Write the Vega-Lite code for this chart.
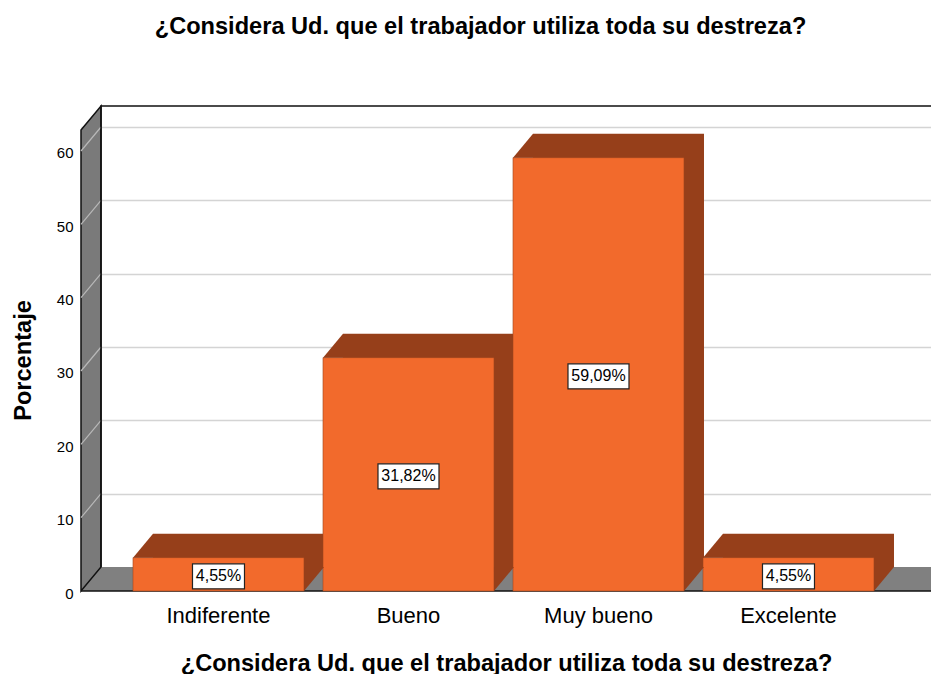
{
  "$schema": "https://vega.github.io/schema/vega-lite/v6.json",
  "width": 850,
  "height": 485,
  "autosize": {"type": "none"},
  "padding": {"left": 81, "top": 106, "right": 0, "bottom": 83},
  "background": "white",
  "config": {"font": "Liberation Sans", "view": {"stroke": null}},
  "title": {
    "text": "¿Considera Ud. que el trabajador utiliza toda su destreza?",
    "frame": "group", "anchor": "middle", "dx": -25.5, "offset": 64,
    "fontSize": 23.6, "fontWeight": "bold", "color": "black", "font": "Liberation Sans"
  },
  "datasets": {
    "datos": [
      {"categoria": "Indiferente", "porcentaje": 4.55, "etiqueta": "4,55%"},
      {"categoria": "Bueno", "porcentaje": 31.82, "etiqueta": "31,82%"},
      {"categoria": "Muy bueno", "porcentaje": 59.09, "etiqueta": "59,09%"},
      {"categoria": "Excelente", "porcentaje": 4.55, "etiqueta": "4,55%"}
    ],
    "decor": [{}]
  },
  "layer": [
    {
      "data": {"name": "decor"},
      "mark": {"type": "point", "shape": "M-425,242.5L-405,218.5L454,218.5L434,242.5Z", "size": 4, "filled": true, "fill": "#808080", "strokeWidth": 0, "opacity": 1},
      "encoding": {}
    },
    {
      "data": {"name": "decor"},
      "mark": {"type": "point", "shape": "M-425,-218.5L-405,-242.5L-405,218.5L-425,242.5Z", "size": 4, "filled": true, "fill": "#7A7A7A", "stroke": "#111111", "strokeWidth": 1.5, "opacity": 1},
      "encoding": {}
    },
    {
      "data": {"name": "decor"},
      "mark": {"type": "point", "shape": "M-405,145.2L-425,169.2M-405,71.8L-425,95.8M-405,-1.5L-425,22.5M-405,-74.8L-425,-50.8M-405,-148.2L-425,-124.2M-405,-221.5L-425,-197.5", "size": 4, "filled": false, "stroke": "#B8B8B8", "strokeWidth": 1.2, "opacity": 1},
      "encoding": {}
    },
    {
      "data": {"name": "decor"},
      "mark": {"type": "point", "shape": "M-405,218.5L-405,-242.5L454,-242.5", "size": 4, "filled": false, "stroke": "#111111", "strokeWidth": 1.5, "opacity": 1},
      "encoding": {}
    },
    {
      "data": {"name": "decor"},
      "mark": {"type": "point", "shape": "M-425,242.5L440,242.5", "size": 4, "filled": false, "stroke": "#111111", "strokeWidth": 1.5, "opacity": 1},
      "encoding": {}
    },
    {
      "data": {"name": "datos"},
      "mark": {"type": "bar", "fill": "#963F1A", "xOffset": 20},
      "encoding": {
        "x": {"field": "categoria", "type": "nominal", "sort": null,
              "scale": {"paddingInner": 0.1, "paddingOuter": 0.28684, "align": 0.477}},
        "y": {"field": "porcentaje", "type": "quantitative",
              "scale": {"domain": [-3.2727, 62.864], "nice": false, "zero": false},
              "axis": {"orient": "right", "grid": true, "gridColor": "#D4D4D4", "gridWidth": 1.5,
                       "labels": false, "ticks": false, "domain": false, "title": null,
                       "values": [10, 20, 30, 40, 50, 60]}},
        "y2": {"datum": 0}
      }
    },
    {
      "data": {"name": "datos"},
      "mark": {"type": "bar", "fill": "#F26A2C", "stroke": "#A0461E", "strokeWidth": 0.6},
      "encoding": {
        "x": {"field": "categoria", "type": "nominal", "sort": null,
              "scale": {"paddingInner": 0.1, "paddingOuter": 0.28684, "align": 0.477},
              "axis": {"orient": "bottom", "labelAngle": 0, "labelAlign": "center", "labelBaseline": "top",
                       "labelFontSize": 22, "labelColor": "black",
                       "labelPadding": 14, "ticks": false, "domain": false, "grid": false,
                       "title": "¿Considera Ud. que el trabajador utiliza toda su destreza?",
                       "titleFontSize": 23.6, "titleFontWeight": "bold", "titleColor": "black", "titlePadding": 25}},
        "y": {"field": "porcentaje", "type": "quantitative",
              "scale": {"domain": [0, 66.136], "nice": false},
              "axis": {"orient": "left", "grid": false, "ticks": false, "domain": false,
                       "values": [0, 10, 20, 30, 40, 50, 60], "labelFontSize": 15, "labelColor": "black",
                       "labelPadding": 8, "labelOffset": 2,
                       "title": "Porcentaje", "titleFontSize": 23.6, "titleFontWeight": "bold", "titleColor": "black",
                       "titleX": -51, "titleY": 254, "titleAngle": -90, "titleAlign": "center", "titleBaseline": "alphabetic"}},
        "y2": {"datum": 0}
      }
    },
    {
      "data": {"name": "datos"},
      "mark": {"type": "point", "shape": "M-85.5,0L-65.5,-24L-65.5,0Z", "size": 4, "filled": true, "fill": "#963F1A", "strokeWidth": 0, "opacity": 1},
      "encoding": {
        "x": {"field": "categoria", "type": "nominal", "sort": null,
              "scale": {"paddingInner": 0.1, "paddingOuter": 0.28684, "align": 0.477}},
        "y": {"field": "porcentaje", "type": "quantitative",
              "scale": {"domain": [0, 66.136], "nice": false}, "axis": null}
      }
    },
    {
      "data": {"name": "datos"},
      "mark": {"type": "point", "shape": "M85.5,-24L85.5,0L105.5,-24Z", "size": 4, "filled": true, "fill": "#963F1A", "strokeWidth": 0, "opacity": 1},
      "encoding": {
        "x": {"field": "categoria", "type": "nominal", "sort": null,
              "scale": {"paddingInner": 0.1, "paddingOuter": 0.28684, "align": 0.477}},
        "y": {"datum": 0, "type": "quantitative",
              "scale": {"domain": [0, 66.136], "nice": false}, "axis": null}
      }
    },
    {
      "data": {"name": "datos"},
      "transform": [{"filter": "datum.porcentaje < 10"}],
      "mark": {"type": "point", "shape": "M-26,-12.5H26V12.5H-26Z", "size": 4, "filled": true, "fill": "white", "stroke": "#222222", "strokeWidth": 1.2, "opacity": 1, "yOffset": 2},
      "encoding": {
        "x": {"field": "categoria", "type": "nominal", "sort": null,
              "scale": {"paddingInner": 0.1, "paddingOuter": 0.28684, "align": 0.477}},
        "y": {"field": "porcentaje", "type": "quantitative",
              "scale": {"domain": [0, 132.272], "nice": false}, "axis": null}
      }
    },
    {
      "data": {"name": "datos"},
      "transform": [{"filter": "datum.porcentaje >= 10"}],
      "mark": {"type": "point", "shape": "M-30.5,-12.5H30.5V12.5H-30.5Z", "size": 4, "filled": true, "fill": "white", "stroke": "#222222", "strokeWidth": 1.2, "opacity": 1, "yOffset": 2},
      "encoding": {
        "x": {"field": "categoria", "type": "nominal", "sort": null,
              "scale": {"paddingInner": 0.1, "paddingOuter": 0.28684, "align": 0.477}},
        "y": {"field": "porcentaje", "type": "quantitative",
              "scale": {"domain": [0, 132.272], "nice": false}, "axis": null}
      }
    },
    {
      "data": {"name": "datos"},
      "mark": {"type": "text", "fontSize": 16, "baseline": "middle", "align": "center", "color": "black", "yOffset": 2},
      "encoding": {
        "x": {"field": "categoria", "type": "nominal", "sort": null,
              "scale": {"paddingInner": 0.1, "paddingOuter": 0.28684, "align": 0.477}},
        "y": {"field": "porcentaje", "type": "quantitative",
              "scale": {"domain": [0, 132.272], "nice": false}, "axis": null},
        "text": {"field": "etiqueta", "type": "nominal"}
      }
    }
  ],
  "resolve": {"scale": {"y": "independent"}}
}
